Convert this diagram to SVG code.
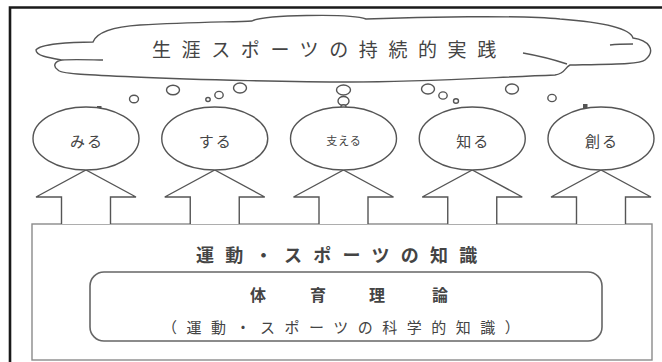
<svg xmlns="http://www.w3.org/2000/svg" width="662" height="362" viewBox="0 0 662 362">
<style>
.frame{fill:none;stroke:#1a1a1a;stroke-width:2.6}
.ln{fill:#fff;stroke:#555;stroke-width:1.4}
.open{fill:none;stroke:#555;stroke-width:1.4}
.box{fill:#fff;stroke:#8a8a8a;stroke-width:1.4}
.inner{fill:#fff;stroke:#666;stroke-width:1.6}
.dot{fill:#555;stroke:none}
.t{font-family:"Noto Sans CJK JP","Noto Sans CJK SC",sans-serif;fill:#444}
.lab{font-size:15px;dominant-baseline:central;text-anchor:middle;letter-spacing:2px}
</style>
<rect width="662" height="362" fill="#fff"/>
<path class="frame" d="M10,362 V7.5 H662"/>

<g id="cloud">
<path class="ln" d="M93,42 C96,34 110,27 140,25 C190,22 235,22 252,21 C262,15 350,13 366,19 C420,17 520,15 560,19 C600,22 630,28 633,38 C648,40 657,50 645,60 C640,64 620,64 570,65 C564,68 566,73 555,75 C480,78 420,82 350,82 C300,82 200,80 135,77 C90,75 60,74 58,70 C52,66 55,61 62,60 C50,58 36,56 36,50 C40,44 70,42 93,42 Z"/>
<path class="open" d="M62,60 C75,59 95,60 103,60"/>
<path class="open" d="M523,53 C540,56 555,60 567,64"/>
<path class="open" d="M610,45 C618,44 626,44 633,44"/>
<text class="t" x="152" y="57" font-size="19" letter-spacing="10.6" fill="#555">生涯スポーツの持続的実践</text>
</g>

<g id="box-knowledge">
<rect class="box" x="32" y="224" width="620" height="136"/>
<text class="t" x="196" y="262" font-size="18" font-weight="bold" letter-spacing="11.3" fill="#222">運動・スポーツの知識</text>
</g>

<g id="box-theory">
<rect class="inner" x="90" y="272" width="512" height="69" rx="14"/>
<text class="t" x="258 318 377 440" y="301" font-size="16" font-weight="bold" text-anchor="middle" fill="#333">体育理論</text>
<text class="t" x="162" y="333" font-size="15" letter-spacing="9.5" fill="#444">（運動・スポーツの科学的知識）</text>
</g>

<g id="connectors">
<path class="ln" d="M61.5,224 V197 H36 L86,170 L136,197 H110.5 V224"/>
<path class="ln" d="M190.25,224 V197 H164.75 L214.75,170 L264.75,197 H239.25 V224"/>
<path class="ln" d="M319,224 V197 H293.5 L343.5,170 L393.5,197 H368 V224"/>
<path class="ln" d="M447.75,224 V197 H422.25 L472.25,170 L522.25,197 H496.75 V224"/>
<path class="ln" d="M576.5,224 V197 H551 L601,170 L651,197 H625.5 V224"/>
<g id="bubbles">
<ellipse class="ln" cx="134" cy="99" rx="4.5" ry="3.8"/>
<ellipse class="ln" cx="173" cy="90" rx="6.5" ry="4.8"/>
<ellipse class="ln" cx="208" cy="99.5" rx="2.2" ry="2"/>
<ellipse class="ln" cx="219" cy="95" rx="4.2" ry="3.6"/>
<ellipse class="ln" cx="240" cy="88" rx="6.5" ry="5"/>
<ellipse class="ln" cx="343.5" cy="90" rx="7" ry="5"/>
<ellipse class="ln" cx="343.5" cy="101" rx="5.5" ry="4.5"/>
<ellipse class="ln" cx="343.5" cy="106.5" rx="2.5" ry="1.8"/>
<ellipse class="ln" cx="428" cy="89" rx="6.5" ry="5"/>
<ellipse class="ln" cx="443" cy="95.5" rx="4.2" ry="3.6"/>
<ellipse class="ln" cx="456" cy="101" rx="2.5" ry="2.2"/>
<ellipse class="ln" cx="512" cy="89" rx="6.5" ry="5"/>
<ellipse class="ln" cx="552" cy="98" rx="4.2" ry="3.6"/>
<rect class="dot" x="97" y="106" width="4.5" height="4"/>
<rect class="dot" x="583" y="104" width="4.5" height="4"/>
</g>
</g>

<g id="node-miru">
<ellipse class="ln" cx="86" cy="138.5" rx="53" ry="31.5"/>
<text class="t lab" x="87" y="140">みる</text>
</g>
<g id="node-suru">
<ellipse class="ln" cx="214.75" cy="138.5" rx="53" ry="31.5"/>
<text class="t lab" x="215.75" y="140">する</text>
</g>
<g id="node-sasaeru">
<ellipse class="ln" cx="343.5" cy="138.5" rx="53" ry="31.5"/>
<text class="t lab" x="344" y="140" style="font-size:11px;letter-spacing:1px">支える</text>
</g>
<g id="node-shiru">
<ellipse class="ln" cx="472.25" cy="138.5" rx="53" ry="31.5"/>
<text class="t lab" x="473.25" y="140">知る</text>
</g>
<g id="node-tsukuru">
<ellipse class="ln" cx="601" cy="138.5" rx="53" ry="31.5"/>
<text class="t lab" x="602" y="140">創る</text>
</g>
</svg>
